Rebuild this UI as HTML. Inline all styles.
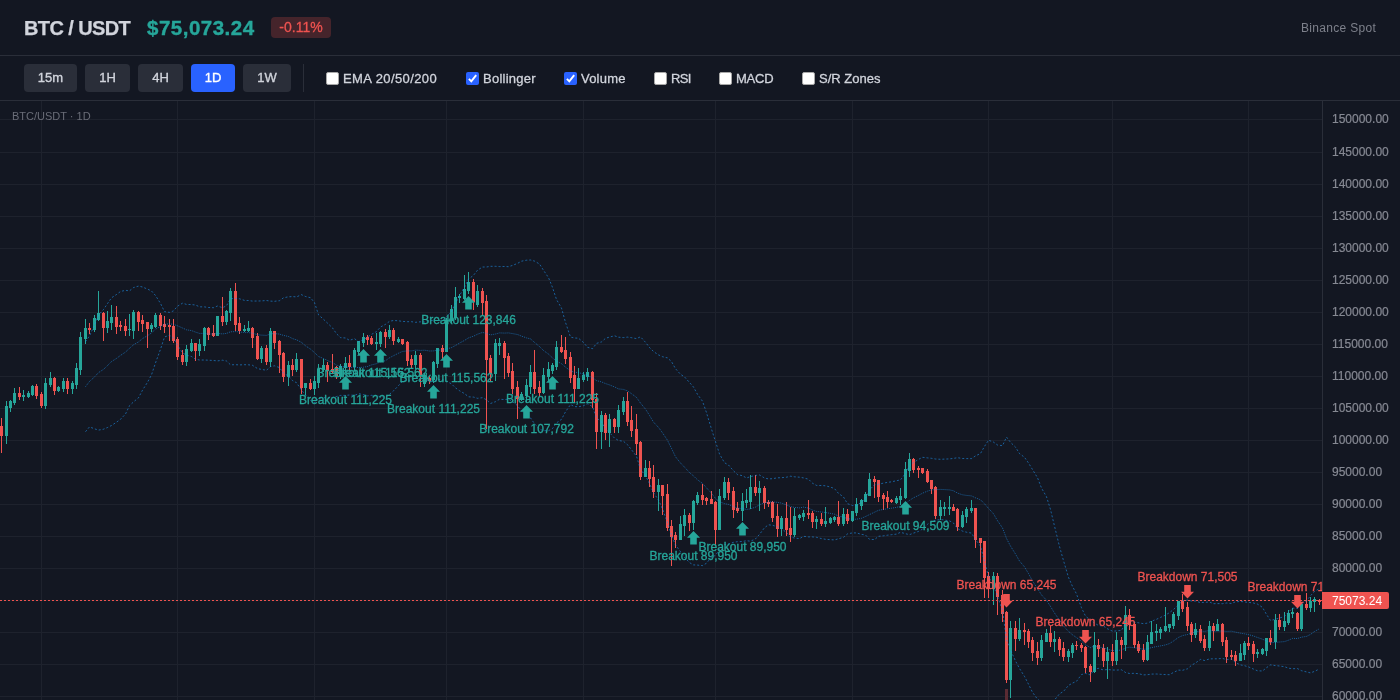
<!DOCTYPE html>
<html lang="en"><head><meta charset="utf-8"><title>BTC / USDT</title>
<style>
*{box-sizing:border-box;margin:0;padding:0}
html,body{width:1400px;height:700px;overflow:hidden;background:#131722;font-family:"Liberation Sans",sans-serif;color:#d1d4dc}
#root{position:absolute;left:0;top:0;width:1400px;height:700px;overflow:hidden;will-change:transform;transform:translateZ(0)}
.hdr{position:absolute;left:0;top:0;width:1400px;height:56px;border-bottom:1px solid #2a2e39}
.tb{position:absolute;left:0;top:56px;width:1400px;height:45px;border-bottom:1px solid #2a2e39}
.abs{position:absolute;white-space:nowrap;line-height:1}
.title{left:24px;top:18px;font-size:20px;font-weight:700;color:#d1d4dc;letter-spacing:-0.6px;-webkit-text-stroke:0.25px #d1d4dc}
.price{left:147px;top:17.5px;font-size:20.5px;font-weight:700;color:#26a69a;letter-spacing:0.5px;-webkit-text-stroke:0.4px #26a69a}
.badge{left:271px;top:17px;width:60px;height:21px;border-radius:4px;background:#45242b;color:#ef5350;font-size:14px;text-align:center;line-height:21px;-webkit-text-stroke:0.3px #ef5350}
.src{left:1301px;top:22px;font-size:12px;color:#7d808b;letter-spacing:0.32px}
.btn{-webkit-text-stroke:0.35px;top:8px;height:28px;border-radius:4px;background:#2a2e39;color:#d1d4dc;font-size:13px;text-align:center;line-height:28px}
.btn.on{background:#2962ff;color:#fff}
.sep{left:303px;top:8px;width:1px;height:28px;background:#2a2e39}
.cb{top:16px;width:13px;height:13px;border-radius:2px;background:#fff;border:1px solid #a8a8a8}
.cb.on{background:#2962ff;border:none}
.lb{-webkit-text-stroke:0.3px;top:16px;font-size:13px;color:#d1d4dc;line-height:13px}
svg{position:absolute;left:0;top:101px}
svg text{font-family:"Liberation Sans",sans-serif}
.mk{font-size:12px}
.ax{font-size:12px}
.lg{font-size:11px}
</style></head><body><div id="root">
<div class="hdr">
<div class="abs title">BTC / USDT</div>
<div class="abs price">$75,073.24</div>
<div class="abs badge">-0.11%</div>
<div class="abs src">Binance Spot</div>
</div>
<div class="tb">
<div class="abs btn" style="left:24px;width:53px">15m</div>
<div class="abs btn" style="left:85px;width:45px">1H</div>
<div class="abs btn" style="left:138px;width:45px">4H</div>
<div class="abs btn on" style="left:191px;width:44px">1D</div>
<div class="abs btn" style="left:243px;width:48px">1W</div>
<div class="abs sep"></div>
<div class="abs cb" style="left:326px"></div><div class="abs lb" style="left:343px;letter-spacing:0.4px">EMA 20/50/200</div>
<div class="abs cb on" style="left:466px"><svg style="left:0;top:0" width="13" height="13" viewBox="0 0 13 13"><path d="M2.9 6.9 L5.3 9.4 L10.2 3.1" fill="none" stroke="#fff" stroke-width="1.9"/></svg></div><div class="abs lb" style="left:483px;letter-spacing:0.25px">Bollinger</div>
<div class="abs cb on" style="left:564px"><svg style="left:0;top:0" width="13" height="13" viewBox="0 0 13 13"><path d="M2.9 6.9 L5.3 9.4 L10.2 3.1" fill="none" stroke="#fff" stroke-width="1.9"/></svg></div><div class="abs lb" style="left:581px;letter-spacing:0.22px">Volume</div>
<div class="abs cb" style="left:654px"></div><div class="abs lb" style="left:671px;letter-spacing:-0.6px">RSI</div>
<div class="abs cb" style="left:719px"></div><div class="abs lb" style="left:736px;letter-spacing:-0.25px">MACD</div>
<div class="abs cb" style="left:802px"></div><div class="abs lb" style="left:819px">S/R Zones</div>
</div>
<svg width="1400" height="599" viewBox="0 0 1400 599">
<g shape-rendering="crispEdges">
<rect x="0" y="18" width="1322" height="1" fill="#1e222d"/>
<rect x="0" y="51" width="1322" height="1" fill="#1e222d"/>
<rect x="0" y="83" width="1322" height="1" fill="#1e222d"/>
<rect x="0" y="115" width="1322" height="1" fill="#1e222d"/>
<rect x="0" y="147" width="1322" height="1" fill="#1e222d"/>
<rect x="0" y="179" width="1322" height="1" fill="#1e222d"/>
<rect x="0" y="211" width="1322" height="1" fill="#1e222d"/>
<rect x="0" y="243" width="1322" height="1" fill="#1e222d"/>
<rect x="0" y="275" width="1322" height="1" fill="#1e222d"/>
<rect x="0" y="307" width="1322" height="1" fill="#1e222d"/>
<rect x="0" y="339" width="1322" height="1" fill="#1e222d"/>
<rect x="0" y="371" width="1322" height="1" fill="#1e222d"/>
<rect x="0" y="403" width="1322" height="1" fill="#1e222d"/>
<rect x="0" y="435" width="1322" height="1" fill="#1e222d"/>
<rect x="0" y="467" width="1322" height="1" fill="#1e222d"/>
<rect x="0" y="499" width="1322" height="1" fill="#1e222d"/>
<rect x="0" y="531" width="1322" height="1" fill="#1e222d"/>
<rect x="0" y="563" width="1322" height="1" fill="#1e222d"/>
<rect x="0" y="595" width="1322" height="1" fill="#1e222d"/>
<rect x="41" y="0" width="1" height="599" fill="#1e222d"/>
<rect x="177" y="0" width="1" height="599" fill="#1e222d"/>
<rect x="314" y="0" width="1" height="599" fill="#1e222d"/>
<rect x="446" y="0" width="1" height="599" fill="#1e222d"/>
<rect x="583" y="0" width="1" height="599" fill="#1e222d"/>
<rect x="715" y="0" width="1" height="599" fill="#1e222d"/>
<rect x="852" y="0" width="1" height="599" fill="#1e222d"/>
<rect x="988" y="0" width="1" height="599" fill="#1e222d"/>
<rect x="1112" y="0" width="1" height="599" fill="#1e222d"/>
<rect x="1248" y="0" width="1" height="599" fill="#1e222d"/>
</g>
<rect x="1005" y="588" width="3" height="20" fill="#5a2b33" shape-rendering="crispEdges"/>
<g shape-rendering="crispEdges">
<rect x="1" y="317" width="1" height="35" fill="#ef5350"/>
<rect x="0" y="325" width="3" height="10" fill="#ef5350"/>
<rect x="6" y="300" width="1" height="43" fill="#26a69a"/>
<rect x="5" y="305" width="3" height="30" fill="#26a69a"/>
<rect x="10" y="299" width="1" height="12" fill="#26a69a"/>
<rect x="9" y="300" width="3" height="7" fill="#26a69a"/>
<rect x="14" y="287" width="1" height="17" fill="#26a69a"/>
<rect x="13" y="292" width="3" height="10" fill="#26a69a"/>
<rect x="19" y="286" width="1" height="13" fill="#ef5350"/>
<rect x="18" y="292" width="3" height="4" fill="#ef5350"/>
<rect x="23" y="289" width="1" height="11" fill="#26a69a"/>
<rect x="22" y="294" width="3" height="2" fill="#26a69a"/>
<rect x="28" y="290" width="1" height="7" fill="#26a69a"/>
<rect x="27" y="292" width="3" height="4" fill="#26a69a"/>
<rect x="32" y="284" width="1" height="11" fill="#26a69a"/>
<rect x="31" y="285" width="3" height="9" fill="#26a69a"/>
<rect x="36" y="283" width="1" height="15" fill="#ef5350"/>
<rect x="35" y="285" width="3" height="10" fill="#ef5350"/>
<rect x="41" y="291" width="1" height="16" fill="#ef5350"/>
<rect x="40" y="293" width="3" height="12" fill="#ef5350"/>
<rect x="45" y="277" width="1" height="31" fill="#26a69a"/>
<rect x="44" y="282" width="3" height="23" fill="#26a69a"/>
<rect x="50" y="271" width="1" height="15" fill="#26a69a"/>
<rect x="49" y="277" width="3" height="7" fill="#26a69a"/>
<rect x="54" y="276" width="1" height="18" fill="#ef5350"/>
<rect x="53" y="277" width="3" height="13" fill="#ef5350"/>
<rect x="58" y="285" width="1" height="6" fill="#26a69a"/>
<rect x="57" y="286" width="3" height="4" fill="#26a69a"/>
<rect x="63" y="277" width="1" height="14" fill="#26a69a"/>
<rect x="62" y="280" width="3" height="8" fill="#26a69a"/>
<rect x="67" y="277" width="1" height="16" fill="#ef5350"/>
<rect x="66" y="280" width="3" height="8" fill="#ef5350"/>
<rect x="72" y="280" width="1" height="13" fill="#26a69a"/>
<rect x="71" y="282" width="3" height="6" fill="#26a69a"/>
<rect x="76" y="262" width="1" height="26" fill="#26a69a"/>
<rect x="75" y="267" width="3" height="17" fill="#26a69a"/>
<rect x="80" y="231" width="1" height="43" fill="#26a69a"/>
<rect x="79" y="236" width="3" height="33" fill="#26a69a"/>
<rect x="85" y="218" width="1" height="25" fill="#26a69a"/>
<rect x="84" y="227" width="3" height="11" fill="#26a69a"/>
<rect x="89" y="222" width="1" height="11" fill="#ef5350"/>
<rect x="88" y="227" width="3" height="2" fill="#ef5350"/>
<rect x="94" y="214" width="1" height="17" fill="#26a69a"/>
<rect x="93" y="217" width="3" height="12" fill="#26a69a"/>
<rect x="98" y="190" width="1" height="30" fill="#26a69a"/>
<rect x="97" y="212" width="3" height="7" fill="#26a69a"/>
<rect x="103" y="211" width="1" height="29" fill="#ef5350"/>
<rect x="102" y="212" width="3" height="15" fill="#ef5350"/>
<rect x="107" y="210" width="1" height="22" fill="#26a69a"/>
<rect x="106" y="220" width="3" height="7" fill="#26a69a"/>
<rect x="111" y="204" width="1" height="25" fill="#26a69a"/>
<rect x="110" y="216" width="3" height="6" fill="#26a69a"/>
<rect x="116" y="205" width="1" height="28" fill="#ef5350"/>
<rect x="115" y="216" width="3" height="10" fill="#ef5350"/>
<rect x="120" y="220" width="1" height="10" fill="#ef5350"/>
<rect x="119" y="224" width="3" height="2" fill="#ef5350"/>
<rect x="125" y="218" width="1" height="17" fill="#ef5350"/>
<rect x="124" y="225" width="3" height="5" fill="#ef5350"/>
<rect x="129" y="213" width="1" height="22" fill="#26a69a"/>
<rect x="128" y="228" width="3" height="1" fill="#26a69a"/>
<rect x="133" y="209" width="1" height="29" fill="#26a69a"/>
<rect x="132" y="211" width="3" height="19" fill="#26a69a"/>
<rect x="138" y="210" width="1" height="20" fill="#ef5350"/>
<rect x="137" y="211" width="3" height="10" fill="#ef5350"/>
<rect x="142" y="214" width="1" height="17" fill="#ef5350"/>
<rect x="141" y="219" width="3" height="4" fill="#ef5350"/>
<rect x="147" y="221" width="1" height="26" fill="#ef5350"/>
<rect x="146" y="221" width="3" height="7" fill="#ef5350"/>
<rect x="151" y="222" width="1" height="9" fill="#26a69a"/>
<rect x="150" y="224" width="3" height="4" fill="#26a69a"/>
<rect x="155" y="212" width="1" height="15" fill="#26a69a"/>
<rect x="154" y="214" width="3" height="12" fill="#26a69a"/>
<rect x="160" y="212" width="1" height="17" fill="#ef5350"/>
<rect x="159" y="214" width="3" height="11" fill="#ef5350"/>
<rect x="164" y="215" width="1" height="17" fill="#ef5350"/>
<rect x="163" y="223" width="3" height="3" fill="#ef5350"/>
<rect x="169" y="218" width="1" height="22" fill="#ef5350"/>
<rect x="168" y="224" width="3" height="2" fill="#ef5350"/>
<rect x="173" y="218" width="1" height="24" fill="#ef5350"/>
<rect x="172" y="225" width="3" height="15" fill="#ef5350"/>
<rect x="177" y="236" width="1" height="23" fill="#ef5350"/>
<rect x="176" y="238" width="3" height="18" fill="#ef5350"/>
<rect x="182" y="249" width="1" height="15" fill="#ef5350"/>
<rect x="181" y="254" width="3" height="7" fill="#ef5350"/>
<rect x="186" y="244" width="1" height="21" fill="#26a69a"/>
<rect x="185" y="248" width="3" height="13" fill="#26a69a"/>
<rect x="191" y="238" width="1" height="13" fill="#26a69a"/>
<rect x="190" y="242" width="3" height="8" fill="#26a69a"/>
<rect x="195" y="242" width="1" height="18" fill="#ef5350"/>
<rect x="194" y="242" width="3" height="8" fill="#ef5350"/>
<rect x="199" y="238" width="1" height="17" fill="#26a69a"/>
<rect x="198" y="243" width="3" height="7" fill="#26a69a"/>
<rect x="204" y="226" width="1" height="24" fill="#26a69a"/>
<rect x="203" y="227" width="3" height="18" fill="#26a69a"/>
<rect x="208" y="226" width="1" height="13" fill="#ef5350"/>
<rect x="207" y="227" width="3" height="7" fill="#ef5350"/>
<rect x="213" y="224" width="1" height="12" fill="#ef5350"/>
<rect x="212" y="232" width="3" height="3" fill="#ef5350"/>
<rect x="217" y="215" width="1" height="20" fill="#26a69a"/>
<rect x="216" y="215" width="3" height="20" fill="#26a69a"/>
<rect x="222" y="196" width="1" height="29" fill="#ef5350"/>
<rect x="221" y="215" width="3" height="6" fill="#ef5350"/>
<rect x="226" y="209" width="1" height="15" fill="#26a69a"/>
<rect x="225" y="210" width="3" height="11" fill="#26a69a"/>
<rect x="230" y="187" width="1" height="33" fill="#26a69a"/>
<rect x="229" y="190" width="3" height="22" fill="#26a69a"/>
<rect x="235" y="182" width="1" height="48" fill="#ef5350"/>
<rect x="234" y="190" width="3" height="34" fill="#ef5350"/>
<rect x="239" y="216" width="1" height="17" fill="#ef5350"/>
<rect x="238" y="222" width="3" height="8" fill="#ef5350"/>
<rect x="244" y="224" width="1" height="7" fill="#26a69a"/>
<rect x="243" y="228" width="3" height="2" fill="#26a69a"/>
<rect x="248" y="220" width="1" height="11" fill="#26a69a"/>
<rect x="247" y="227" width="3" height="3" fill="#26a69a"/>
<rect x="252" y="226" width="1" height="21" fill="#ef5350"/>
<rect x="251" y="227" width="3" height="10" fill="#ef5350"/>
<rect x="257" y="232" width="1" height="27" fill="#ef5350"/>
<rect x="256" y="235" width="3" height="23" fill="#ef5350"/>
<rect x="261" y="245" width="1" height="17" fill="#26a69a"/>
<rect x="260" y="247" width="3" height="11" fill="#26a69a"/>
<rect x="266" y="244" width="1" height="20" fill="#ef5350"/>
<rect x="265" y="247" width="3" height="14" fill="#ef5350"/>
<rect x="270" y="227" width="1" height="39" fill="#26a69a"/>
<rect x="269" y="230" width="3" height="31" fill="#26a69a"/>
<rect x="274" y="230" width="1" height="18" fill="#ef5350"/>
<rect x="273" y="230" width="3" height="12" fill="#ef5350"/>
<rect x="279" y="239" width="1" height="33" fill="#ef5350"/>
<rect x="278" y="240" width="3" height="14" fill="#ef5350"/>
<rect x="283" y="251" width="1" height="30" fill="#ef5350"/>
<rect x="282" y="252" width="3" height="24" fill="#ef5350"/>
<rect x="288" y="260" width="1" height="25" fill="#26a69a"/>
<rect x="287" y="264" width="3" height="12" fill="#26a69a"/>
<rect x="292" y="258" width="1" height="17" fill="#ef5350"/>
<rect x="291" y="264" width="3" height="5" fill="#ef5350"/>
<rect x="296" y="252" width="1" height="19" fill="#26a69a"/>
<rect x="295" y="258" width="3" height="11" fill="#26a69a"/>
<rect x="301" y="258" width="1" height="35" fill="#ef5350"/>
<rect x="300" y="258" width="3" height="29" fill="#ef5350"/>
<rect x="305" y="282" width="1" height="12" fill="#26a69a"/>
<rect x="304" y="282" width="3" height="5" fill="#26a69a"/>
<rect x="310" y="278" width="1" height="11" fill="#ef5350"/>
<rect x="309" y="282" width="3" height="6" fill="#ef5350"/>
<rect x="314" y="275" width="1" height="19" fill="#26a69a"/>
<rect x="313" y="280" width="3" height="8" fill="#26a69a"/>
<rect x="318" y="263" width="1" height="24" fill="#26a69a"/>
<rect x="317" y="268" width="3" height="14" fill="#26a69a"/>
<rect x="323" y="258" width="1" height="13" fill="#26a69a"/>
<rect x="322" y="264" width="3" height="5" fill="#26a69a"/>
<rect x="327" y="261" width="1" height="20" fill="#ef5350"/>
<rect x="326" y="264" width="3" height="6" fill="#ef5350"/>
<rect x="332" y="253" width="1" height="20" fill="#ef5350"/>
<rect x="331" y="268" width="3" height="3" fill="#ef5350"/>
<rect x="336" y="265" width="1" height="13" fill="#ef5350"/>
<rect x="335" y="266" width="3" height="10" fill="#ef5350"/>
<rect x="340" y="263" width="1" height="15" fill="#26a69a"/>
<rect x="339" y="265" width="3" height="11" fill="#26a69a"/>
<rect x="345" y="256" width="1" height="16" fill="#26a69a"/>
<rect x="344" y="262" width="3" height="5" fill="#26a69a"/>
<rect x="349" y="254" width="1" height="16" fill="#ef5350"/>
<rect x="348" y="262" width="3" height="4" fill="#ef5350"/>
<rect x="354" y="247" width="1" height="23" fill="#26a69a"/>
<rect x="353" y="249" width="3" height="17" fill="#26a69a"/>
<rect x="358" y="240" width="1" height="14" fill="#26a69a"/>
<rect x="357" y="240" width="3" height="11" fill="#26a69a"/>
<rect x="363" y="232" width="1" height="14" fill="#26a69a"/>
<rect x="362" y="236" width="3" height="6" fill="#26a69a"/>
<rect x="367" y="234" width="1" height="10" fill="#ef5350"/>
<rect x="366" y="236" width="3" height="3" fill="#ef5350"/>
<rect x="371" y="235" width="1" height="9" fill="#ef5350"/>
<rect x="370" y="237" width="3" height="6" fill="#ef5350"/>
<rect x="376" y="232" width="1" height="17" fill="#26a69a"/>
<rect x="375" y="241" width="3" height="2" fill="#26a69a"/>
<rect x="380" y="230" width="1" height="16" fill="#26a69a"/>
<rect x="379" y="231" width="3" height="12" fill="#26a69a"/>
<rect x="385" y="228" width="1" height="19" fill="#ef5350"/>
<rect x="384" y="231" width="3" height="5" fill="#ef5350"/>
<rect x="389" y="224" width="1" height="14" fill="#26a69a"/>
<rect x="388" y="229" width="3" height="7" fill="#26a69a"/>
<rect x="393" y="227" width="1" height="17" fill="#ef5350"/>
<rect x="392" y="229" width="3" height="11" fill="#ef5350"/>
<rect x="398" y="236" width="1" height="6" fill="#26a69a"/>
<rect x="397" y="238" width="3" height="3" fill="#26a69a"/>
<rect x="402" y="238" width="1" height="6" fill="#ef5350"/>
<rect x="401" y="238" width="3" height="5" fill="#ef5350"/>
<rect x="407" y="240" width="1" height="25" fill="#ef5350"/>
<rect x="406" y="241" width="3" height="19" fill="#ef5350"/>
<rect x="411" y="254" width="1" height="13" fill="#ef5350"/>
<rect x="410" y="258" width="3" height="6" fill="#ef5350"/>
<rect x="415" y="250" width="1" height="18" fill="#26a69a"/>
<rect x="414" y="254" width="3" height="10" fill="#26a69a"/>
<rect x="420" y="252" width="1" height="34" fill="#ef5350"/>
<rect x="419" y="254" width="3" height="21" fill="#ef5350"/>
<rect x="424" y="272" width="1" height="14" fill="#26a69a"/>
<rect x="423" y="274" width="3" height="9" fill="#26a69a"/>
<rect x="429" y="275" width="1" height="8" fill="#ef5350"/>
<rect x="428" y="277" width="3" height="3" fill="#ef5350"/>
<rect x="433" y="260" width="1" height="22" fill="#26a69a"/>
<rect x="432" y="261" width="3" height="18" fill="#26a69a"/>
<rect x="437" y="247" width="1" height="20" fill="#26a69a"/>
<rect x="436" y="247" width="3" height="16" fill="#26a69a"/>
<rect x="442" y="244" width="1" height="14" fill="#ef5350"/>
<rect x="441" y="247" width="3" height="4" fill="#ef5350"/>
<rect x="446" y="217" width="1" height="34" fill="#26a69a"/>
<rect x="445" y="219" width="3" height="32" fill="#26a69a"/>
<rect x="451" y="204" width="1" height="18" fill="#26a69a"/>
<rect x="450" y="208" width="3" height="12" fill="#26a69a"/>
<rect x="455" y="186" width="1" height="33" fill="#26a69a"/>
<rect x="454" y="196" width="3" height="21" fill="#26a69a"/>
<rect x="459" y="193" width="1" height="9" fill="#26a69a"/>
<rect x="458" y="195" width="3" height="2" fill="#26a69a"/>
<rect x="464" y="174" width="1" height="25" fill="#26a69a"/>
<rect x="463" y="188" width="3" height="10" fill="#26a69a"/>
<rect x="468" y="171" width="1" height="22" fill="#26a69a"/>
<rect x="467" y="181" width="3" height="9" fill="#26a69a"/>
<rect x="473" y="178" width="1" height="31" fill="#ef5350"/>
<rect x="472" y="181" width="3" height="20" fill="#ef5350"/>
<rect x="477" y="184" width="1" height="22" fill="#26a69a"/>
<rect x="476" y="190" width="3" height="14" fill="#26a69a"/>
<rect x="482" y="187" width="1" height="28" fill="#ef5350"/>
<rect x="481" y="190" width="3" height="12" fill="#ef5350"/>
<rect x="486" y="194" width="1" height="134" fill="#ef5350"/>
<rect x="485" y="200" width="3" height="59" fill="#ef5350"/>
<rect x="490" y="254" width="1" height="26" fill="#ef5350"/>
<rect x="489" y="257" width="3" height="16" fill="#ef5350"/>
<rect x="495" y="238" width="1" height="42" fill="#26a69a"/>
<rect x="494" y="242" width="3" height="31" fill="#26a69a"/>
<rect x="499" y="237" width="1" height="17" fill="#26a69a"/>
<rect x="498" y="242" width="3" height="3" fill="#26a69a"/>
<rect x="504" y="240" width="1" height="38" fill="#ef5350"/>
<rect x="503" y="242" width="3" height="15" fill="#ef5350"/>
<rect x="508" y="252" width="1" height="24" fill="#ef5350"/>
<rect x="507" y="255" width="3" height="17" fill="#ef5350"/>
<rect x="512" y="262" width="1" height="31" fill="#ef5350"/>
<rect x="511" y="270" width="3" height="18" fill="#ef5350"/>
<rect x="517" y="280" width="1" height="38" fill="#ef5350"/>
<rect x="516" y="286" width="3" height="12" fill="#ef5350"/>
<rect x="521" y="291" width="1" height="9" fill="#26a69a"/>
<rect x="520" y="293" width="3" height="5" fill="#26a69a"/>
<rect x="526" y="278" width="1" height="24" fill="#26a69a"/>
<rect x="525" y="284" width="3" height="11" fill="#26a69a"/>
<rect x="530" y="264" width="1" height="29" fill="#26a69a"/>
<rect x="529" y="271" width="3" height="15" fill="#26a69a"/>
<rect x="534" y="249" width="1" height="44" fill="#ef5350"/>
<rect x="533" y="271" width="3" height="17" fill="#ef5350"/>
<rect x="539" y="280" width="1" height="16" fill="#ef5350"/>
<rect x="538" y="286" width="3" height="6" fill="#ef5350"/>
<rect x="543" y="267" width="1" height="26" fill="#26a69a"/>
<rect x="542" y="274" width="3" height="18" fill="#26a69a"/>
<rect x="548" y="261" width="1" height="19" fill="#26a69a"/>
<rect x="547" y="268" width="3" height="8" fill="#26a69a"/>
<rect x="552" y="262" width="1" height="11" fill="#26a69a"/>
<rect x="551" y="264" width="3" height="6" fill="#26a69a"/>
<rect x="556" y="240" width="1" height="29" fill="#26a69a"/>
<rect x="555" y="246" width="3" height="20" fill="#26a69a"/>
<rect x="561" y="234" width="1" height="18" fill="#ef5350"/>
<rect x="560" y="246" width="3" height="5" fill="#ef5350"/>
<rect x="565" y="236" width="1" height="27" fill="#ef5350"/>
<rect x="564" y="249" width="3" height="9" fill="#ef5350"/>
<rect x="570" y="251" width="1" height="31" fill="#ef5350"/>
<rect x="569" y="256" width="3" height="21" fill="#ef5350"/>
<rect x="574" y="265" width="1" height="36" fill="#ef5350"/>
<rect x="573" y="274" width="3" height="14" fill="#ef5350"/>
<rect x="578" y="267" width="1" height="21" fill="#26a69a"/>
<rect x="577" y="277" width="3" height="11" fill="#26a69a"/>
<rect x="583" y="271" width="1" height="10" fill="#26a69a"/>
<rect x="582" y="274" width="3" height="5" fill="#26a69a"/>
<rect x="587" y="267" width="1" height="13" fill="#26a69a"/>
<rect x="586" y="271" width="3" height="5" fill="#26a69a"/>
<rect x="592" y="270" width="1" height="37" fill="#ef5350"/>
<rect x="591" y="271" width="3" height="28" fill="#ef5350"/>
<rect x="596" y="292" width="1" height="56" fill="#ef5350"/>
<rect x="595" y="298" width="3" height="33" fill="#ef5350"/>
<rect x="601" y="310" width="1" height="38" fill="#26a69a"/>
<rect x="600" y="314" width="3" height="17" fill="#26a69a"/>
<rect x="605" y="312" width="1" height="27" fill="#ef5350"/>
<rect x="604" y="314" width="3" height="18" fill="#ef5350"/>
<rect x="609" y="313" width="1" height="33" fill="#26a69a"/>
<rect x="608" y="318" width="3" height="14" fill="#26a69a"/>
<rect x="614" y="317" width="1" height="15" fill="#ef5350"/>
<rect x="613" y="318" width="3" height="8" fill="#ef5350"/>
<rect x="618" y="304" width="1" height="28" fill="#26a69a"/>
<rect x="617" y="309" width="3" height="17" fill="#26a69a"/>
<rect x="623" y="296" width="1" height="18" fill="#26a69a"/>
<rect x="622" y="300" width="3" height="11" fill="#26a69a"/>
<rect x="627" y="291" width="1" height="34" fill="#ef5350"/>
<rect x="626" y="300" width="3" height="21" fill="#ef5350"/>
<rect x="631" y="305" width="1" height="31" fill="#ef5350"/>
<rect x="630" y="319" width="3" height="11" fill="#ef5350"/>
<rect x="636" y="313" width="1" height="41" fill="#ef5350"/>
<rect x="635" y="328" width="3" height="15" fill="#ef5350"/>
<rect x="640" y="340" width="1" height="39" fill="#ef5350"/>
<rect x="639" y="341" width="3" height="35" fill="#ef5350"/>
<rect x="645" y="359" width="1" height="17" fill="#26a69a"/>
<rect x="644" y="367" width="3" height="9" fill="#26a69a"/>
<rect x="649" y="360" width="1" height="26" fill="#ef5350"/>
<rect x="648" y="367" width="3" height="11" fill="#ef5350"/>
<rect x="653" y="364" width="1" height="33" fill="#ef5350"/>
<rect x="652" y="376" width="3" height="15" fill="#ef5350"/>
<rect x="658" y="378" width="1" height="32" fill="#26a69a"/>
<rect x="657" y="384" width="3" height="7" fill="#26a69a"/>
<rect x="662" y="384" width="1" height="30" fill="#ef5350"/>
<rect x="661" y="384" width="3" height="11" fill="#ef5350"/>
<rect x="667" y="383" width="1" height="47" fill="#ef5350"/>
<rect x="666" y="393" width="3" height="34" fill="#ef5350"/>
<rect x="671" y="419" width="1" height="46" fill="#ef5350"/>
<rect x="670" y="425" width="3" height="11" fill="#ef5350"/>
<rect x="675" y="431" width="1" height="16" fill="#ef5350"/>
<rect x="674" y="434" width="3" height="5" fill="#ef5350"/>
<rect x="680" y="415" width="1" height="24" fill="#26a69a"/>
<rect x="679" y="423" width="3" height="16" fill="#26a69a"/>
<rect x="684" y="408" width="1" height="27" fill="#26a69a"/>
<rect x="683" y="414" width="3" height="11" fill="#26a69a"/>
<rect x="689" y="412" width="1" height="18" fill="#ef5350"/>
<rect x="688" y="414" width="3" height="8" fill="#ef5350"/>
<rect x="693" y="399" width="1" height="30" fill="#26a69a"/>
<rect x="692" y="400" width="3" height="22" fill="#26a69a"/>
<rect x="697" y="391" width="1" height="13" fill="#26a69a"/>
<rect x="696" y="394" width="3" height="8" fill="#26a69a"/>
<rect x="702" y="383" width="1" height="21" fill="#ef5350"/>
<rect x="701" y="394" width="3" height="5" fill="#ef5350"/>
<rect x="706" y="396" width="1" height="8" fill="#ef5350"/>
<rect x="705" y="397" width="3" height="3" fill="#ef5350"/>
<rect x="711" y="390" width="1" height="13" fill="#ef5350"/>
<rect x="710" y="398" width="3" height="5" fill="#ef5350"/>
<rect x="715" y="400" width="1" height="45" fill="#ef5350"/>
<rect x="714" y="401" width="3" height="28" fill="#ef5350"/>
<rect x="719" y="388" width="1" height="41" fill="#26a69a"/>
<rect x="718" y="395" width="3" height="34" fill="#26a69a"/>
<rect x="724" y="376" width="1" height="23" fill="#26a69a"/>
<rect x="723" y="381" width="3" height="16" fill="#26a69a"/>
<rect x="728" y="377" width="1" height="22" fill="#ef5350"/>
<rect x="727" y="381" width="3" height="11" fill="#ef5350"/>
<rect x="733" y="386" width="1" height="31" fill="#ef5350"/>
<rect x="732" y="390" width="3" height="19" fill="#ef5350"/>
<rect x="737" y="401" width="1" height="11" fill="#ef5350"/>
<rect x="736" y="407" width="3" height="3" fill="#ef5350"/>
<rect x="742" y="392" width="1" height="28" fill="#26a69a"/>
<rect x="741" y="400" width="3" height="10" fill="#26a69a"/>
<rect x="746" y="388" width="1" height="19" fill="#26a69a"/>
<rect x="745" y="399" width="3" height="3" fill="#26a69a"/>
<rect x="750" y="374" width="1" height="34" fill="#26a69a"/>
<rect x="749" y="386" width="3" height="15" fill="#26a69a"/>
<rect x="755" y="374" width="1" height="21" fill="#ef5350"/>
<rect x="754" y="386" width="3" height="6" fill="#ef5350"/>
<rect x="759" y="380" width="1" height="30" fill="#26a69a"/>
<rect x="758" y="387" width="3" height="5" fill="#26a69a"/>
<rect x="764" y="385" width="1" height="23" fill="#ef5350"/>
<rect x="763" y="387" width="3" height="15" fill="#ef5350"/>
<rect x="768" y="399" width="1" height="7" fill="#ef5350"/>
<rect x="767" y="401" width="3" height="2" fill="#ef5350"/>
<rect x="772" y="400" width="1" height="21" fill="#ef5350"/>
<rect x="771" y="401" width="3" height="16" fill="#ef5350"/>
<rect x="777" y="403" width="1" height="33" fill="#ef5350"/>
<rect x="776" y="415" width="3" height="13" fill="#ef5350"/>
<rect x="781" y="415" width="1" height="20" fill="#26a69a"/>
<rect x="780" y="417" width="3" height="11" fill="#26a69a"/>
<rect x="786" y="401" width="1" height="34" fill="#ef5350"/>
<rect x="785" y="417" width="3" height="12" fill="#ef5350"/>
<rect x="790" y="406" width="1" height="35" fill="#ef5350"/>
<rect x="789" y="427" width="3" height="7" fill="#ef5350"/>
<rect x="794" y="407" width="1" height="29" fill="#26a69a"/>
<rect x="793" y="415" width="3" height="19" fill="#26a69a"/>
<rect x="799" y="413" width="1" height="6" fill="#26a69a"/>
<rect x="798" y="414" width="3" height="3" fill="#26a69a"/>
<rect x="803" y="409" width="1" height="11" fill="#26a69a"/>
<rect x="802" y="412" width="3" height="4" fill="#26a69a"/>
<rect x="808" y="399" width="1" height="19" fill="#ef5350"/>
<rect x="807" y="412" width="3" height="2" fill="#ef5350"/>
<rect x="812" y="410" width="1" height="17" fill="#ef5350"/>
<rect x="811" y="412" width="3" height="9" fill="#ef5350"/>
<rect x="816" y="415" width="1" height="13" fill="#26a69a"/>
<rect x="815" y="418" width="3" height="3" fill="#26a69a"/>
<rect x="821" y="412" width="1" height="13" fill="#ef5350"/>
<rect x="820" y="418" width="3" height="5" fill="#ef5350"/>
<rect x="825" y="406" width="1" height="20" fill="#26a69a"/>
<rect x="824" y="420" width="3" height="3" fill="#26a69a"/>
<rect x="830" y="416" width="1" height="7" fill="#26a69a"/>
<rect x="829" y="417" width="3" height="5" fill="#26a69a"/>
<rect x="834" y="415" width="1" height="6" fill="#26a69a"/>
<rect x="833" y="416" width="3" height="3" fill="#26a69a"/>
<rect x="838" y="400" width="1" height="25" fill="#ef5350"/>
<rect x="837" y="416" width="3" height="7" fill="#ef5350"/>
<rect x="843" y="407" width="1" height="18" fill="#26a69a"/>
<rect x="842" y="413" width="3" height="10" fill="#26a69a"/>
<rect x="847" y="408" width="1" height="15" fill="#ef5350"/>
<rect x="846" y="413" width="3" height="7" fill="#ef5350"/>
<rect x="852" y="410" width="1" height="11" fill="#26a69a"/>
<rect x="851" y="410" width="3" height="10" fill="#26a69a"/>
<rect x="856" y="397" width="1" height="18" fill="#26a69a"/>
<rect x="855" y="403" width="3" height="9" fill="#26a69a"/>
<rect x="861" y="398" width="1" height="11" fill="#26a69a"/>
<rect x="860" y="399" width="3" height="6" fill="#26a69a"/>
<rect x="865" y="391" width="1" height="10" fill="#26a69a"/>
<rect x="864" y="393" width="3" height="8" fill="#26a69a"/>
<rect x="869" y="372" width="1" height="23" fill="#26a69a"/>
<rect x="868" y="378" width="3" height="17" fill="#26a69a"/>
<rect x="874" y="375" width="1" height="22" fill="#ef5350"/>
<rect x="873" y="378" width="3" height="3" fill="#ef5350"/>
<rect x="878" y="379" width="1" height="22" fill="#ef5350"/>
<rect x="877" y="379" width="3" height="17" fill="#ef5350"/>
<rect x="883" y="392" width="1" height="17" fill="#ef5350"/>
<rect x="882" y="394" width="3" height="4" fill="#ef5350"/>
<rect x="887" y="390" width="1" height="17" fill="#ef5350"/>
<rect x="886" y="396" width="3" height="5" fill="#ef5350"/>
<rect x="891" y="398" width="1" height="4" fill="#ef5350"/>
<rect x="890" y="399" width="3" height="2" fill="#ef5350"/>
<rect x="896" y="395" width="1" height="8" fill="#26a69a"/>
<rect x="895" y="397" width="3" height="5" fill="#26a69a"/>
<rect x="900" y="387" width="1" height="17" fill="#26a69a"/>
<rect x="899" y="395" width="3" height="4" fill="#26a69a"/>
<rect x="905" y="361" width="1" height="37" fill="#26a69a"/>
<rect x="904" y="368" width="3" height="29" fill="#26a69a"/>
<rect x="909" y="352" width="1" height="24" fill="#26a69a"/>
<rect x="908" y="358" width="3" height="12" fill="#26a69a"/>
<rect x="913" y="357" width="1" height="15" fill="#ef5350"/>
<rect x="912" y="358" width="3" height="11" fill="#ef5350"/>
<rect x="918" y="365" width="1" height="12" fill="#ef5350"/>
<rect x="917" y="367" width="3" height="2" fill="#ef5350"/>
<rect x="922" y="367" width="1" height="6" fill="#ef5350"/>
<rect x="921" y="367" width="3" height="5" fill="#ef5350"/>
<rect x="927" y="368" width="1" height="14" fill="#ef5350"/>
<rect x="926" y="370" width="3" height="11" fill="#ef5350"/>
<rect x="931" y="379" width="1" height="14" fill="#ef5350"/>
<rect x="930" y="379" width="3" height="9" fill="#ef5350"/>
<rect x="935" y="385" width="1" height="33" fill="#ef5350"/>
<rect x="934" y="386" width="3" height="29" fill="#ef5350"/>
<rect x="940" y="399" width="1" height="20" fill="#26a69a"/>
<rect x="939" y="406" width="3" height="9" fill="#26a69a"/>
<rect x="944" y="401" width="1" height="14" fill="#26a69a"/>
<rect x="943" y="406" width="3" height="2" fill="#26a69a"/>
<rect x="949" y="395" width="1" height="19" fill="#26a69a"/>
<rect x="948" y="406" width="3" height="2" fill="#26a69a"/>
<rect x="953" y="403" width="1" height="7" fill="#ef5350"/>
<rect x="952" y="406" width="3" height="4" fill="#ef5350"/>
<rect x="957" y="407" width="1" height="23" fill="#ef5350"/>
<rect x="956" y="408" width="3" height="18" fill="#ef5350"/>
<rect x="962" y="410" width="1" height="17" fill="#26a69a"/>
<rect x="961" y="414" width="3" height="12" fill="#26a69a"/>
<rect x="966" y="406" width="1" height="16" fill="#26a69a"/>
<rect x="965" y="408" width="3" height="8" fill="#26a69a"/>
<rect x="971" y="399" width="1" height="13" fill="#26a69a"/>
<rect x="970" y="407" width="3" height="3" fill="#26a69a"/>
<rect x="975" y="407" width="1" height="40" fill="#ef5350"/>
<rect x="974" y="407" width="3" height="32" fill="#ef5350"/>
<rect x="980" y="437" width="1" height="25" fill="#ef5350"/>
<rect x="979" y="437" width="3" height="5" fill="#ef5350"/>
<rect x="984" y="440" width="1" height="57" fill="#ef5350"/>
<rect x="983" y="440" width="3" height="37" fill="#ef5350"/>
<rect x="988" y="471" width="1" height="26" fill="#ef5350"/>
<rect x="987" y="475" width="3" height="13" fill="#ef5350"/>
<rect x="993" y="471" width="1" height="33" fill="#26a69a"/>
<rect x="992" y="475" width="3" height="13" fill="#26a69a"/>
<rect x="997" y="472" width="1" height="42" fill="#ef5350"/>
<rect x="996" y="475" width="3" height="21" fill="#ef5350"/>
<rect x="1002" y="489" width="1" height="32" fill="#ef5350"/>
<rect x="1001" y="494" width="3" height="19" fill="#ef5350"/>
<rect x="1006" y="510" width="1" height="72" fill="#ef5350"/>
<rect x="1005" y="511" width="3" height="68" fill="#ef5350"/>
<rect x="1010" y="520" width="1" height="77" fill="#26a69a"/>
<rect x="1009" y="527" width="3" height="52" fill="#26a69a"/>
<rect x="1015" y="520" width="1" height="30" fill="#ef5350"/>
<rect x="1014" y="527" width="3" height="11" fill="#ef5350"/>
<rect x="1019" y="517" width="1" height="23" fill="#26a69a"/>
<rect x="1018" y="529" width="3" height="9" fill="#26a69a"/>
<rect x="1024" y="522" width="1" height="22" fill="#ef5350"/>
<rect x="1023" y="529" width="3" height="2" fill="#ef5350"/>
<rect x="1028" y="528" width="1" height="19" fill="#ef5350"/>
<rect x="1027" y="530" width="3" height="11" fill="#ef5350"/>
<rect x="1032" y="536" width="1" height="24" fill="#ef5350"/>
<rect x="1031" y="539" width="3" height="13" fill="#ef5350"/>
<rect x="1037" y="541" width="1" height="23" fill="#ef5350"/>
<rect x="1036" y="550" width="3" height="7" fill="#ef5350"/>
<rect x="1041" y="534" width="1" height="26" fill="#26a69a"/>
<rect x="1040" y="539" width="3" height="18" fill="#26a69a"/>
<rect x="1046" y="528" width="1" height="13" fill="#26a69a"/>
<rect x="1045" y="532" width="3" height="9" fill="#26a69a"/>
<rect x="1050" y="525" width="1" height="21" fill="#ef5350"/>
<rect x="1049" y="532" width="3" height="9" fill="#ef5350"/>
<rect x="1054" y="530" width="1" height="21" fill="#26a69a"/>
<rect x="1053" y="538" width="3" height="3" fill="#26a69a"/>
<rect x="1059" y="536" width="1" height="19" fill="#ef5350"/>
<rect x="1058" y="538" width="3" height="11" fill="#ef5350"/>
<rect x="1063" y="541" width="1" height="19" fill="#ef5350"/>
<rect x="1062" y="547" width="3" height="9" fill="#ef5350"/>
<rect x="1068" y="548" width="1" height="13" fill="#26a69a"/>
<rect x="1067" y="550" width="3" height="6" fill="#26a69a"/>
<rect x="1072" y="542" width="1" height="15" fill="#26a69a"/>
<rect x="1071" y="544" width="3" height="8" fill="#26a69a"/>
<rect x="1076" y="540" width="1" height="9" fill="#ef5350"/>
<rect x="1075" y="544" width="3" height="1" fill="#ef5350"/>
<rect x="1081" y="542" width="1" height="9" fill="#ef5350"/>
<rect x="1080" y="544" width="3" height="3" fill="#ef5350"/>
<rect x="1085" y="545" width="1" height="27" fill="#ef5350"/>
<rect x="1084" y="546" width="3" height="21" fill="#ef5350"/>
<rect x="1090" y="563" width="1" height="18" fill="#ef5350"/>
<rect x="1089" y="565" width="3" height="6" fill="#ef5350"/>
<rect x="1094" y="531" width="1" height="41" fill="#26a69a"/>
<rect x="1093" y="544" width="3" height="27" fill="#26a69a"/>
<rect x="1098" y="538" width="1" height="18" fill="#ef5350"/>
<rect x="1097" y="544" width="3" height="4" fill="#ef5350"/>
<rect x="1103" y="543" width="1" height="23" fill="#ef5350"/>
<rect x="1102" y="547" width="3" height="13" fill="#ef5350"/>
<rect x="1107" y="546" width="1" height="32" fill="#26a69a"/>
<rect x="1106" y="551" width="3" height="9" fill="#26a69a"/>
<rect x="1112" y="543" width="1" height="22" fill="#ef5350"/>
<rect x="1111" y="551" width="3" height="9" fill="#ef5350"/>
<rect x="1116" y="531" width="1" height="33" fill="#26a69a"/>
<rect x="1115" y="539" width="3" height="21" fill="#26a69a"/>
<rect x="1121" y="536" width="1" height="22" fill="#ef5350"/>
<rect x="1120" y="539" width="3" height="5" fill="#ef5350"/>
<rect x="1125" y="505" width="1" height="45" fill="#26a69a"/>
<rect x="1124" y="514" width="3" height="30" fill="#26a69a"/>
<rect x="1129" y="508" width="1" height="21" fill="#ef5350"/>
<rect x="1128" y="514" width="3" height="10" fill="#ef5350"/>
<rect x="1134" y="521" width="1" height="26" fill="#ef5350"/>
<rect x="1133" y="523" width="3" height="21" fill="#ef5350"/>
<rect x="1138" y="540" width="1" height="12" fill="#ef5350"/>
<rect x="1137" y="543" width="3" height="7" fill="#ef5350"/>
<rect x="1143" y="543" width="1" height="18" fill="#ef5350"/>
<rect x="1142" y="549" width="3" height="10" fill="#ef5350"/>
<rect x="1147" y="534" width="1" height="26" fill="#26a69a"/>
<rect x="1146" y="541" width="3" height="18" fill="#26a69a"/>
<rect x="1151" y="520" width="1" height="23" fill="#26a69a"/>
<rect x="1150" y="531" width="3" height="12" fill="#26a69a"/>
<rect x="1156" y="523" width="1" height="17" fill="#26a69a"/>
<rect x="1155" y="530" width="3" height="2" fill="#26a69a"/>
<rect x="1160" y="526" width="1" height="12" fill="#26a69a"/>
<rect x="1159" y="528" width="3" height="4" fill="#26a69a"/>
<rect x="1165" y="506" width="1" height="25" fill="#26a69a"/>
<rect x="1164" y="525" width="3" height="5" fill="#26a69a"/>
<rect x="1169" y="523" width="1" height="8" fill="#26a69a"/>
<rect x="1168" y="523" width="3" height="4" fill="#26a69a"/>
<rect x="1173" y="511" width="1" height="17" fill="#26a69a"/>
<rect x="1172" y="513" width="3" height="12" fill="#26a69a"/>
<rect x="1178" y="500" width="1" height="19" fill="#26a69a"/>
<rect x="1177" y="500" width="3" height="15" fill="#26a69a"/>
<rect x="1182" y="493" width="1" height="18" fill="#ef5350"/>
<rect x="1181" y="500" width="3" height="8" fill="#ef5350"/>
<rect x="1187" y="501" width="1" height="29" fill="#ef5350"/>
<rect x="1186" y="506" width="3" height="19" fill="#ef5350"/>
<rect x="1191" y="521" width="1" height="20" fill="#ef5350"/>
<rect x="1190" y="523" width="3" height="11" fill="#ef5350"/>
<rect x="1195" y="522" width="1" height="15" fill="#26a69a"/>
<rect x="1194" y="528" width="3" height="6" fill="#26a69a"/>
<rect x="1200" y="524" width="1" height="18" fill="#ef5350"/>
<rect x="1199" y="528" width="3" height="12" fill="#ef5350"/>
<rect x="1204" y="534" width="1" height="16" fill="#ef5350"/>
<rect x="1203" y="538" width="3" height="9" fill="#ef5350"/>
<rect x="1209" y="520" width="1" height="30" fill="#26a69a"/>
<rect x="1208" y="525" width="3" height="22" fill="#26a69a"/>
<rect x="1213" y="522" width="1" height="18" fill="#ef5350"/>
<rect x="1212" y="525" width="3" height="5" fill="#ef5350"/>
<rect x="1217" y="518" width="1" height="12" fill="#26a69a"/>
<rect x="1216" y="523" width="3" height="7" fill="#26a69a"/>
<rect x="1222" y="522" width="1" height="23" fill="#ef5350"/>
<rect x="1221" y="523" width="3" height="18" fill="#ef5350"/>
<rect x="1226" y="536" width="1" height="26" fill="#ef5350"/>
<rect x="1225" y="539" width="3" height="17" fill="#ef5350"/>
<rect x="1231" y="549" width="1" height="10" fill="#ef5350"/>
<rect x="1230" y="554" width="3" height="2" fill="#ef5350"/>
<rect x="1235" y="550" width="1" height="15" fill="#ef5350"/>
<rect x="1234" y="554" width="3" height="6" fill="#ef5350"/>
<rect x="1240" y="543" width="1" height="17" fill="#26a69a"/>
<rect x="1239" y="552" width="3" height="8" fill="#26a69a"/>
<rect x="1244" y="540" width="1" height="19" fill="#26a69a"/>
<rect x="1243" y="542" width="3" height="12" fill="#26a69a"/>
<rect x="1248" y="536" width="1" height="13" fill="#ef5350"/>
<rect x="1247" y="542" width="3" height="3" fill="#ef5350"/>
<rect x="1253" y="540" width="1" height="21" fill="#ef5350"/>
<rect x="1252" y="543" width="3" height="10" fill="#ef5350"/>
<rect x="1257" y="548" width="1" height="9" fill="#26a69a"/>
<rect x="1256" y="551" width="3" height="2" fill="#26a69a"/>
<rect x="1262" y="547" width="1" height="7" fill="#26a69a"/>
<rect x="1261" y="548" width="3" height="5" fill="#26a69a"/>
<rect x="1266" y="537" width="1" height="18" fill="#26a69a"/>
<rect x="1265" y="537" width="3" height="13" fill="#26a69a"/>
<rect x="1270" y="529" width="1" height="15" fill="#ef5350"/>
<rect x="1269" y="537" width="3" height="4" fill="#ef5350"/>
<rect x="1275" y="513" width="1" height="35" fill="#26a69a"/>
<rect x="1274" y="519" width="3" height="22" fill="#26a69a"/>
<rect x="1279" y="513" width="1" height="16" fill="#ef5350"/>
<rect x="1278" y="519" width="3" height="7" fill="#ef5350"/>
<rect x="1284" y="511" width="1" height="19" fill="#26a69a"/>
<rect x="1283" y="520" width="3" height="6" fill="#26a69a"/>
<rect x="1288" y="509" width="1" height="15" fill="#26a69a"/>
<rect x="1287" y="512" width="3" height="10" fill="#26a69a"/>
<rect x="1292" y="507" width="1" height="10" fill="#26a69a"/>
<rect x="1291" y="511" width="3" height="2" fill="#26a69a"/>
<rect x="1297" y="511" width="1" height="19" fill="#ef5350"/>
<rect x="1296" y="512" width="3" height="16" fill="#ef5350"/>
<rect x="1301" y="503" width="1" height="27" fill="#26a69a"/>
<rect x="1300" y="503" width="3" height="25" fill="#26a69a"/>
<rect x="1306" y="492" width="1" height="17" fill="#ef5350"/>
<rect x="1305" y="503" width="3" height="4" fill="#ef5350"/>
<rect x="1310" y="496" width="1" height="15" fill="#26a69a"/>
<rect x="1309" y="500" width="3" height="7" fill="#26a69a"/>
<rect x="1314" y="496" width="1" height="15" fill="#26a69a"/>
<rect x="1313" y="498" width="3" height="3" fill="#26a69a"/>
<rect x="1319" y="498" width="1" height="6" fill="#ef5350"/>
<rect x="1318" y="499" width="3" height="2" fill="#ef5350"/>
</g>
<path d="M85.5 240.7 L89.5 234.9 L94.5 224.2 L98.5 214.1 L103.5 208.5 L107.5 202.6 L111.5 196.8 L116.5 193.5 L120.5 190.5 L125.5 189.3 L129.5 189.9 L133.5 186.6 L138.5 185.1 L142.5 186.0 L147.5 188.1 L151.5 190.0 L155.5 194.5 L160.5 202.4 L164.5 210.6 L169.5 211.4 L173.5 209.9 L177.5 205.2 L182.5 202.2 L186.5 203.4 L191.5 203.6 L195.5 204.0 L199.5 205.8 L204.5 205.9 L208.5 206.5 L213.5 206.7 L217.5 205.0 L222.5 206.7 L226.5 204.8 L230.5 197.7 L235.5 197.4 L239.5 197.8 L244.5 199.4 L248.5 199.5 L252.5 200.1 L257.5 200.0 L261.5 199.9 L266.5 199.5 L270.5 200.1 L274.5 200.3 L279.5 199.7 L283.5 196.8 L288.5 195.8 L292.5 195.6 L296.5 195.9 L301.5 193.7 L305.5 195.5 L310.5 196.7 L314.5 201.6 L318.5 213.8 L323.5 218.3 L327.5 222.1 L332.5 226.9 L336.5 232.7 L340.5 236.6 L345.5 237.0 L349.5 239.3 L354.5 237.7 L358.5 240.5 L363.5 238.9 L367.5 236.1 L371.5 233.4 L376.5 230.6 L380.5 226.0 L385.5 223.3 L389.5 220.3 L393.5 219.5 L398.5 219.8 L402.5 220.4 L407.5 220.7 L411.5 220.7 L415.5 221.3 L420.5 220.8 L424.5 221.1 L429.5 219.5 L433.5 219.5 L437.5 219.5 L442.5 219.6 L446.5 215.9 L451.5 210.4 L455.5 202.1 L459.5 194.5 L464.5 186.3 L468.5 178.1 L473.5 174.3 L477.5 169.2 L482.5 166.0 L486.5 166.0 L490.5 165.3 L495.5 165.3 L499.5 165.6 L504.5 165.5 L508.5 165.7 L512.5 164.4 L517.5 162.4 L521.5 160.2 L526.5 159.2 L530.5 159.0 L534.5 160.1 L539.5 163.0 L543.5 169.3 L548.5 176.6 L552.5 186.4 L556.5 198.5 L561.5 207.1 L565.5 221.4 L570.5 236.1 L574.5 237.0 L578.5 237.2 L583.5 241.5 L587.5 246.3 L592.5 247.7 L596.5 242.4 L601.5 240.9 L605.5 237.3 L609.5 236.1 L614.5 234.8 L618.5 236.2 L623.5 236.6 L627.5 236.1 L631.5 236.7 L636.5 237.6 L640.5 235.8 L645.5 241.3 L649.5 246.5 L653.5 250.5 L658.5 253.9 L662.5 255.7 L667.5 256.9 L671.5 260.6 L675.5 267.7 L680.5 273.3 L684.5 275.9 L689.5 281.5 L693.5 286.0 L697.5 293.4 L702.5 300.2 L706.5 311.7 L711.5 328.1 L715.5 340.6 L719.5 353.0 L724.5 361.7 L728.5 364.0 L733.5 369.8 L737.5 373.6 L742.5 374.7 L746.5 377.0 L750.5 375.6 L755.5 374.4 L759.5 374.0 L764.5 377.0 L768.5 377.9 L772.5 377.7 L777.5 376.8 L781.5 376.7 L786.5 376.2 L790.5 375.2 L794.5 375.8 L799.5 376.2 L803.5 376.9 L808.5 378.2 L812.5 382.2 L816.5 384.4 L821.5 384.5 L825.5 384.8 L830.5 386.1 L834.5 387.6 L838.5 392.4 L843.5 396.0 L847.5 402.7 L852.5 404.5 L856.5 404.5 L861.5 401.2 L865.5 397.1 L869.5 388.9 L874.5 383.8 L878.5 383.3 L883.5 382.1 L887.5 381.4 L891.5 380.8 L896.5 379.7 L900.5 378.9 L905.5 372.5 L909.5 365.0 L913.5 361.5 L918.5 358.4 L922.5 356.3 L927.5 356.9 L931.5 357.3 L935.5 358.0 L940.5 358.3 L944.5 358.1 L949.5 357.9 L953.5 357.4 L957.5 356.7 L962.5 357.5 L966.5 357.6 L971.5 357.6 L975.5 354.9 L980.5 352.5 L984.5 345.4 L988.5 339.2 L993.5 341.1 L997.5 344.0 L1002.5 344.7 L1006.5 336.1 L1010.5 341.3 L1015.5 346.1 L1019.5 352.6 L1024.5 356.3 L1028.5 362.0 L1032.5 368.5 L1037.5 376.7 L1041.5 387.0 L1046.5 395.8 L1050.5 408.5 L1054.5 425.1 L1059.5 445.5 L1063.5 459.6 L1068.5 476.4 L1072.5 485.4 L1076.5 492.9 L1081.5 506.8 L1085.5 515.1 L1090.5 519.3 L1094.5 522.0 L1098.5 524.5 L1103.5 525.1 L1107.5 527.8 L1112.5 530.2 L1116.5 529.9 L1121.5 529.4 L1125.5 522.4 L1129.5 519.9 L1134.5 521.3 L1138.5 521.8 L1143.5 522.7 L1147.5 522.1 L1151.5 520.2 L1156.5 518.3 L1160.5 516.4 L1165.5 514.1 L1169.5 511.6 L1173.5 508.5 L1178.5 503.7 L1182.5 499.9 L1187.5 499.1 L1191.5 500.0 L1195.5 500.0 L1200.5 501.6 L1204.5 501.3 L1209.5 501.0 L1213.5 502.7 L1217.5 502.6 L1222.5 502.7 L1226.5 502.0 L1231.5 502.4 L1235.5 500.8 L1240.5 500.5 L1244.5 500.9 L1248.5 501.4 L1253.5 502.0 L1257.5 503.1 L1262.5 506.4 L1266.5 513.4 L1270.5 519.5 L1275.5 518.2 L1279.5 517.0 L1284.5 515.5 L1288.5 511.2 L1292.5 507.1 L1297.5 507.5 L1301.5 502.7 L1306.5 499.9 L1310.5 494.8 L1314.5 490.5 L1319.5 487.5" fill="none" stroke="rgba(33,150,243,0.58)" stroke-width="1" stroke-dasharray="2 2"/>
<path d="M85.5 330.7 L89.5 325.9 L94.5 327.8 L98.5 329.1 L103.5 328.2 L107.5 326.5 L111.5 324.5 L116.5 321.2 L120.5 318.3 L125.5 313.0 L129.5 304.7 L133.5 300.9 L138.5 296.8 L142.5 289.2 L147.5 281.3 L151.5 273.8 L155.5 261.9 L160.5 248.3 L164.5 236.0 L169.5 234.2 L173.5 237.0 L177.5 244.4 L182.5 251.8 L186.5 254.2 L191.5 255.5 L195.5 258.1 L199.5 259.0 L204.5 259.0 L208.5 259.2 L213.5 259.5 L217.5 259.9 L222.5 259.2 L226.5 260.0 L230.5 263.8 L235.5 263.7 L239.5 263.9 L244.5 263.7 L248.5 263.8 L252.5 264.3 L257.5 267.6 L261.5 268.4 L266.5 269.3 L270.5 265.6 L274.5 264.8 L279.5 266.6 L283.5 272.1 L288.5 275.2 L292.5 279.6 L296.5 281.7 L301.5 289.1 L305.5 294.0 L310.5 299.5 L314.5 301.6 L318.5 297.2 L323.5 296.7 L327.5 296.9 L332.5 296.4 L336.5 295.5 L340.5 294.4 L345.5 294.4 L349.5 294.0 L354.5 294.4 L358.5 292.6 L363.5 293.6 L367.5 294.9 L371.5 294.3 L376.5 294.8 L380.5 295.6 L385.5 296.1 L389.5 293.3 L393.5 289.9 L398.5 284.6 L402.5 280.3 L407.5 279.2 L411.5 279.2 L415.5 277.0 L420.5 277.9 L424.5 277.4 L429.5 280.5 L433.5 280.4 L437.5 278.5 L442.5 278.6 L446.5 280.2 L451.5 282.9 L455.5 286.9 L459.5 289.7 L464.5 292.6 L468.5 295.8 L473.5 296.1 L477.5 297.3 L482.5 296.7 L486.5 298.8 L490.5 302.5 L495.5 300.7 L499.5 298.2 L504.5 298.6 L508.5 298.1 L512.5 300.8 L517.5 304.6 L521.5 310.0 L526.5 314.7 L530.5 316.9 L534.5 322.7 L539.5 328.2 L543.5 329.7 L548.5 329.7 L552.5 327.5 L556.5 321.9 L561.5 318.3 L565.5 310.8 L570.5 303.6 L574.5 305.6 L578.5 305.8 L583.5 304.7 L587.5 302.8 L592.5 305.6 L596.5 316.8 L601.5 320.9 L605.5 327.9 L609.5 331.6 L614.5 337.1 L618.5 339.5 L623.5 340.3 L627.5 343.7 L631.5 348.7 L636.5 355.3 L640.5 368.3 L645.5 374.9 L649.5 382.4 L653.5 391.7 L658.5 399.0 L662.5 407.9 L667.5 421.7 L671.5 434.2 L675.5 443.9 L680.5 450.7 L684.5 456.4 L689.5 461.6 L693.5 463.9 L697.5 464.1 L702.5 464.6 L706.5 462.2 L711.5 456.1 L715.5 454.4 L719.5 448.5 L724.5 443.6 L728.5 442.9 L733.5 441.3 L737.5 440.7 L742.5 440.5 L746.5 439.7 L750.5 440.2 L755.5 437.9 L759.5 433.4 L764.5 426.7 L768.5 423.8 L772.5 424.3 L777.5 425.8 L781.5 427.6 L786.5 431.6 L790.5 436.1 L794.5 437.0 L799.5 437.7 L803.5 435.3 L808.5 435.9 L812.5 435.9 L816.5 436.3 L821.5 437.6 L825.5 438.3 L830.5 438.7 L834.5 438.9 L838.5 437.8 L843.5 436.3 L847.5 432.9 L852.5 431.9 L856.5 431.9 L861.5 433.4 L865.5 434.0 L869.5 438.3 L874.5 438.6 L878.5 435.3 L883.5 434.8 L887.5 434.2 L891.5 433.7 L896.5 433.1 L900.5 431.3 L905.5 432.7 L909.5 433.7 L913.5 432.1 L918.5 430.4 L922.5 428.1 L927.5 423.3 L931.5 420.4 L935.5 419.2 L940.5 418.5 L944.5 419.0 L949.5 419.9 L953.5 422.1 L957.5 427.6 L962.5 430.1 L966.5 431.2 L971.5 432.1 L975.5 438.6 L980.5 445.1 L984.5 460.2 L988.5 475.7 L993.5 484.5 L997.5 495.4 L1002.5 509.1 L1006.5 538.7 L1010.5 549.0 L1015.5 559.9 L1019.5 567.5 L1024.5 575.4 L1028.5 583.2 L1032.5 591.3 L1037.5 598.2 L1041.5 600.8 L1046.5 602.6 L1050.5 602.6 L1054.5 599.0 L1059.5 592.8 L1063.5 590.4 L1068.5 584.4 L1072.5 582.1 L1076.5 580.3 L1081.5 573.6 L1085.5 572.4 L1090.5 574.0 L1094.5 567.8 L1098.5 567.4 L1103.5 569.0 L1107.5 568.5 L1112.5 569.0 L1116.5 569.1 L1121.5 568.8 L1125.5 571.5 L1129.5 572.5 L1134.5 572.3 L1138.5 572.7 L1143.5 573.9 L1147.5 573.7 L1151.5 573.1 L1156.5 573.0 L1160.5 573.3 L1165.5 573.6 L1169.5 573.7 L1173.5 571.4 L1178.5 569.1 L1182.5 569.3 L1187.5 567.8 L1191.5 564.3 L1195.5 562.0 L1200.5 558.4 L1204.5 559.5 L1209.5 557.9 L1213.5 557.8 L1217.5 557.8 L1222.5 557.4 L1226.5 558.7 L1231.5 558.0 L1235.5 561.5 L1240.5 563.9 L1244.5 564.7 L1248.5 565.9 L1253.5 568.1 L1257.5 569.8 L1262.5 570.0 L1266.5 566.7 L1270.5 563.9 L1275.5 564.6 L1279.5 565.0 L1284.5 565.7 L1288.5 567.2 L1292.5 567.7 L1297.5 567.6 L1301.5 569.7 L1306.5 570.9 L1310.5 571.9 L1314.5 570.4 L1319.5 567.9" fill="none" stroke="rgba(33,150,243,0.58)" stroke-width="1" stroke-dasharray="2 2"/>
<path d="M85.5 285.7 L89.5 280.4 L94.5 276.0 L98.5 271.6 L103.5 268.4 L107.5 264.6 L111.5 260.6 L116.5 257.4 L120.5 254.4 L125.5 251.1 L129.5 247.3 L133.5 243.8 L138.5 240.9 L142.5 237.6 L147.5 234.7 L151.5 231.9 L155.5 228.2 L160.5 225.4 L164.5 223.3 L169.5 222.8 L173.5 223.4 L177.5 224.8 L182.5 227.0 L186.5 228.8 L191.5 229.6 L195.5 231.1 L199.5 232.4 L204.5 232.4 L208.5 232.9 L213.5 233.1 L217.5 232.4 L222.5 232.9 L226.5 232.4 L230.5 230.8 L235.5 230.6 L239.5 230.9 L244.5 231.6 L248.5 231.6 L252.5 232.2 L257.5 233.8 L261.5 234.1 L266.5 234.4 L270.5 232.9 L274.5 232.6 L279.5 233.1 L283.5 234.4 L288.5 235.5 L292.5 237.6 L296.5 238.8 L301.5 241.4 L305.5 244.8 L310.5 248.1 L314.5 251.6 L318.5 255.5 L323.5 257.5 L327.5 259.5 L332.5 261.6 L336.5 264.1 L340.5 265.5 L345.5 265.7 L349.5 266.6 L354.5 266.1 L358.5 266.6 L363.5 266.2 L367.5 265.5 L371.5 263.9 L376.5 262.7 L380.5 260.8 L385.5 259.7 L389.5 256.8 L393.5 254.7 L398.5 252.2 L402.5 250.4 L407.5 249.9 L411.5 249.9 L415.5 249.1 L420.5 249.4 L424.5 249.2 L429.5 250.0 L433.5 249.9 L437.5 249.0 L442.5 249.1 L446.5 248.1 L451.5 246.6 L455.5 244.5 L459.5 242.1 L464.5 239.4 L468.5 236.9 L473.5 235.2 L477.5 233.2 L482.5 231.4 L486.5 232.4 L490.5 233.9 L495.5 233.0 L499.5 231.9 L504.5 232.1 L508.5 231.9 L512.5 232.6 L517.5 233.5 L521.5 235.1 L526.5 236.9 L530.5 237.9 L534.5 241.4 L539.5 245.6 L543.5 249.5 L548.5 253.1 L552.5 256.9 L556.5 260.2 L561.5 262.7 L565.5 266.1 L570.5 269.9 L574.5 271.3 L578.5 271.5 L583.5 273.1 L587.5 274.6 L592.5 276.6 L596.5 279.6 L601.5 280.9 L605.5 282.6 L609.5 283.9 L614.5 285.9 L618.5 287.9 L623.5 288.4 L627.5 289.9 L631.5 292.7 L636.5 296.4 L640.5 302.1 L645.5 308.1 L649.5 314.4 L653.5 321.1 L658.5 326.4 L662.5 331.8 L667.5 339.3 L671.5 347.4 L675.5 355.8 L680.5 362.0 L684.5 366.1 L689.5 371.6 L693.5 374.9 L697.5 378.8 L702.5 382.4 L706.5 386.9 L711.5 392.1 L715.5 397.5 L719.5 400.8 L724.5 402.6 L728.5 403.4 L733.5 405.6 L737.5 407.1 L742.5 407.6 L746.5 408.4 L750.5 407.9 L755.5 406.1 L759.5 403.7 L764.5 401.9 L768.5 400.9 L772.5 401.0 L777.5 401.3 L781.5 402.1 L786.5 403.9 L790.5 405.6 L794.5 406.4 L799.5 406.9 L803.5 406.1 L808.5 407.1 L812.5 409.1 L816.5 410.4 L821.5 411.0 L825.5 411.5 L830.5 412.4 L834.5 413.2 L838.5 415.1 L843.5 416.1 L847.5 417.8 L852.5 418.2 L856.5 418.2 L861.5 417.3 L865.5 415.5 L869.5 413.6 L874.5 411.2 L878.5 409.3 L883.5 408.4 L887.5 407.8 L891.5 407.2 L896.5 406.4 L900.5 405.1 L905.5 402.6 L909.5 399.4 L913.5 396.8 L918.5 394.4 L922.5 392.2 L927.5 390.1 L931.5 388.9 L935.5 388.6 L940.5 388.4 L944.5 388.6 L949.5 388.9 L953.5 389.8 L957.5 392.1 L962.5 393.8 L966.5 394.4 L971.5 394.9 L975.5 396.8 L980.5 398.8 L984.5 402.8 L988.5 407.4 L993.5 412.8 L997.5 419.7 L1002.5 426.9 L1006.5 437.4 L1010.5 445.1 L1015.5 453.0 L1019.5 460.0 L1024.5 465.9 L1028.5 472.6 L1032.5 479.9 L1037.5 487.5 L1041.5 493.9 L1046.5 499.2 L1050.5 505.5 L1054.5 512.0 L1059.5 519.1 L1063.5 525.0 L1068.5 530.4 L1072.5 533.8 L1076.5 536.6 L1081.5 540.2 L1085.5 543.8 L1090.5 546.6 L1094.5 544.9 L1098.5 546.0 L1103.5 547.0 L1107.5 548.1 L1112.5 549.6 L1116.5 549.5 L1121.5 549.1 L1125.5 547.0 L1129.5 546.2 L1134.5 546.8 L1138.5 547.2 L1143.5 548.3 L1147.5 547.9 L1151.5 546.6 L1156.5 545.6 L1160.5 544.9 L1165.5 543.9 L1169.5 542.6 L1173.5 540.0 L1178.5 536.4 L1182.5 534.6 L1187.5 533.5 L1191.5 532.1 L1195.5 531.0 L1200.5 530.0 L1204.5 530.4 L1209.5 529.5 L1213.5 530.2 L1217.5 530.2 L1222.5 530.0 L1226.5 530.4 L1231.5 530.2 L1235.5 531.1 L1240.5 532.2 L1244.5 532.8 L1248.5 533.6 L1253.5 535.0 L1257.5 536.5 L1262.5 538.2 L1266.5 540.0 L1270.5 541.7 L1275.5 541.4 L1279.5 541.0 L1284.5 540.6 L1288.5 539.2 L1292.5 537.4 L1297.5 537.5 L1301.5 536.2 L1306.5 535.4 L1310.5 533.4 L1314.5 530.5 L1319.5 527.7" fill="none" stroke="rgba(33,150,243,0.58)" stroke-width="1" stroke-dasharray="1 1"/>
<line x1="0" x2="1322" y1="499.5" y2="499.5" stroke="#ef5350" stroke-width="1" stroke-dasharray="2 2" shape-rendering="crispEdges"/>
<clipPath id="pc"><rect x="0" y="0" width="1322" height="599"/></clipPath>
<g clip-path="url(#pc)">
<path d="M345.5 275 L352.0 281.8 L348.8 281.8 L348.8 288.5 L342.2 288.5 L342.2 281.8 L339.0 281.8 Z" fill="#26a69a"/>
<text class="mk" x="345.5" y="303.3" text-anchor="middle" fill="#26a69a" stroke="#26a69a" stroke-width="0.3">Breakout 111,225</text>
<path d="M363.5 248 L370.0 254.8 L366.8 254.8 L366.8 261.5 L360.2 261.5 L360.2 254.8 L357.0 254.8 Z" fill="#26a69a"/>
<text class="mk" x="363.5" y="276.3" text-anchor="middle" fill="#26a69a" stroke="#26a69a" stroke-width="0.3">Breakout 115,562</text>
<path d="M380.5 248 L387.0 254.8 L383.8 254.8 L383.8 261.5 L377.2 261.5 L377.2 254.8 L374.0 254.8 Z" fill="#26a69a"/>
<text class="mk" x="380.5" y="276.3" text-anchor="middle" fill="#26a69a" stroke="#26a69a" stroke-width="0.3">Breakout 115,562</text>
<path d="M433.5 284 L440.0 290.8 L436.8 290.8 L436.8 297.5 L430.2 297.5 L430.2 290.8 L427.0 290.8 Z" fill="#26a69a"/>
<text class="mk" x="433.5" y="312.3" text-anchor="middle" fill="#26a69a" stroke="#26a69a" stroke-width="0.3">Breakout 111,225</text>
<path d="M446.5 253 L453.0 259.8 L449.8 259.8 L449.8 266.5 L443.2 266.5 L443.2 259.8 L440.0 259.8 Z" fill="#26a69a"/>
<text class="mk" x="446.5" y="281.3" text-anchor="middle" fill="#26a69a" stroke="#26a69a" stroke-width="0.3">Breakout 115,562</text>
<path d="M468.5 195 L475.0 201.8 L471.8 201.8 L471.8 208.5 L465.2 208.5 L465.2 201.8 L462.0 201.8 Z" fill="#26a69a"/>
<text class="mk" x="468.5" y="223.3" text-anchor="middle" fill="#26a69a" stroke="#26a69a" stroke-width="0.3">Breakout 123,846</text>
<path d="M526.5 304 L533.0 310.8 L529.8 310.8 L529.8 317.5 L523.2 317.5 L523.2 310.8 L520.0 310.8 Z" fill="#26a69a"/>
<text class="mk" x="526.5" y="332.3" text-anchor="middle" fill="#26a69a" stroke="#26a69a" stroke-width="0.3">Breakout 107,792</text>
<path d="M552.5 275 L559.0 281.8 L555.8 281.8 L555.8 288.5 L549.2 288.5 L549.2 281.8 L546.0 281.8 Z" fill="#26a69a"/>
<text class="mk" x="552.5" y="302.3" text-anchor="middle" fill="#26a69a" stroke="#26a69a" stroke-width="0.3">Breakout 111,225</text>
<path d="M693.5 430 L700.0 436.8 L696.8 436.8 L696.8 443.5 L690.2 443.5 L690.2 436.8 L687.0 436.8 Z" fill="#26a69a"/>
<text class="mk" x="693.5" y="459.3" text-anchor="middle" fill="#26a69a" stroke="#26a69a" stroke-width="0.3">Breakout 89,950</text>
<path d="M742.5 421 L749.0 427.8 L745.8 427.8 L745.8 434.5 L739.2 434.5 L739.2 427.8 L736.0 427.8 Z" fill="#26a69a"/>
<text class="mk" x="742.5" y="450.3" text-anchor="middle" fill="#26a69a" stroke="#26a69a" stroke-width="0.3">Breakout 89,950</text>
<path d="M905.5 400 L912.0 406.8 L908.8 406.8 L908.8 413.5 L902.2 413.5 L902.2 406.8 L899.0 406.8 Z" fill="#26a69a"/>
<text class="mk" x="905.5" y="429.3" text-anchor="middle" fill="#26a69a" stroke="#26a69a" stroke-width="0.3">Breakout 94,509</text>
<path d="M1006.5 506.5 L1013.0 499.7 L1009.8 499.7 L1009.8 493 L1003.2 493 L1003.2 499.7 L1000.0 499.7 Z" fill="#ef5350"/>
<text class="mk" x="1006.5" y="488.3" text-anchor="middle" fill="#ef5350" stroke="#ef5350" stroke-width="0.3">Breakdown 65,245</text>
<path d="M1085.5 542.5 L1092.0 535.7 L1088.8 535.7 L1088.8 529 L1082.2 529 L1082.2 535.7 L1079.0 535.7 Z" fill="#ef5350"/>
<text class="mk" x="1085.5" y="525.3" text-anchor="middle" fill="#ef5350" stroke="#ef5350" stroke-width="0.3">Breakdown 65,245</text>
<path d="M1187.5 497.5 L1194.0 490.7 L1190.8 490.7 L1190.8 484 L1184.2 484 L1184.2 490.7 L1181.0 490.7 Z" fill="#ef5350"/>
<text class="mk" x="1187.5" y="480.3" text-anchor="middle" fill="#ef5350" stroke="#ef5350" stroke-width="0.3">Breakdown 71,505</text>
<path d="M1297.5 507.5 L1304.0 500.7 L1300.8 500.7 L1300.8 494 L1294.2 494 L1294.2 500.7 L1291.0 500.7 Z" fill="#ef5350"/>
<text class="mk" x="1297.5" y="490.3" text-anchor="middle" fill="#ef5350" stroke="#ef5350" stroke-width="0.3">Breakdown 71,505</text>
</g>
<rect x="1322" y="0" width="1" height="599" fill="#2a2e39" shape-rendering="crispEdges"/>
<text class="ax" x="1332" y="21.9" fill="#868993" stroke="#868993" stroke-width="0.2">150000.00</text>
<text class="ax" x="1332" y="54.9" fill="#868993" stroke="#868993" stroke-width="0.2">145000.00</text>
<text class="ax" x="1332" y="86.9" fill="#868993" stroke="#868993" stroke-width="0.2">140000.00</text>
<text class="ax" x="1332" y="118.9" fill="#868993" stroke="#868993" stroke-width="0.2">135000.00</text>
<text class="ax" x="1332" y="150.9" fill="#868993" stroke="#868993" stroke-width="0.2">130000.00</text>
<text class="ax" x="1332" y="182.9" fill="#868993" stroke="#868993" stroke-width="0.2">125000.00</text>
<text class="ax" x="1332" y="214.9" fill="#868993" stroke="#868993" stroke-width="0.2">120000.00</text>
<text class="ax" x="1332" y="246.9" fill="#868993" stroke="#868993" stroke-width="0.2">115000.00</text>
<text class="ax" x="1332" y="278.9" fill="#868993" stroke="#868993" stroke-width="0.2">110000.00</text>
<text class="ax" x="1332" y="310.9" fill="#868993" stroke="#868993" stroke-width="0.2">105000.00</text>
<text class="ax" x="1332" y="342.9" fill="#868993" stroke="#868993" stroke-width="0.2">100000.00</text>
<text class="ax" x="1332" y="374.9" fill="#868993" stroke="#868993" stroke-width="0.2">95000.00</text>
<text class="ax" x="1332" y="406.9" fill="#868993" stroke="#868993" stroke-width="0.2">90000.00</text>
<text class="ax" x="1332" y="438.9" fill="#868993" stroke="#868993" stroke-width="0.2">85000.00</text>
<text class="ax" x="1332" y="470.9" fill="#868993" stroke="#868993" stroke-width="0.2">80000.00</text>
<text class="ax" x="1332" y="502.9" fill="#868993" stroke="#868993" stroke-width="0.2">75000.00</text>
<text class="ax" x="1332" y="534.9" fill="#868993" stroke="#868993" stroke-width="0.2">70000.00</text>
<text class="ax" x="1332" y="566.9" fill="#868993" stroke="#868993" stroke-width="0.2">65000.00</text>
<text class="ax" x="1332" y="598.9" fill="#868993" stroke="#868993" stroke-width="0.2">60000.00</text>
<path d="M1322 491 H1387 a2 2 0 0 1 2 2 V506 a2 2 0 0 1 -2 2 H1322 Z" fill="#ef5350"/>
<text class="ax" x="1332" y="503.8" fill="#ffffff">75073.24</text>
<text class="lg" x="12" y="19" fill="#6a6d78">BTC/USDT · 1D</text>
</svg>
</div></body></html>
